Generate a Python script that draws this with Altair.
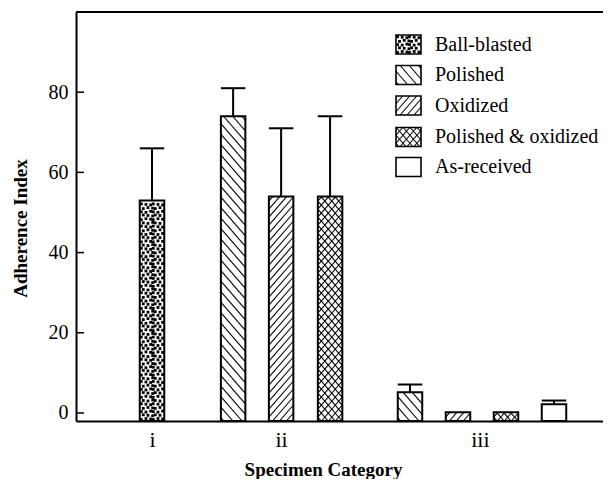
import json
import altair as alt
import pandas as pd

# ---------------- data ----------------
categories = ["i", "ii", "ii", "ii", "iii", "iii", "iii", "iii"]
treatments = ["Ball-blasted", "Polished", "Oxidized", "Polished & oxidized",
              "Polished", "Oxidized", "Polished & oxidized", "As-received"]
adherence = [53.0, 74.0, 54.0, 54.0, 5.2, 0.2, 0.2, 2.2]
error_top = [66.0, 81.0, 71.0, 74.0, 7.1, None, None, 3.1]
bar_slot = [0.0, 1.69, 2.69, 3.71, 5.375, 6.375, 7.375, 8.375]
category_labels = ["i", "ii", "iii"]
category_slot = [0.0, 2.69, 6.83]
legend_order = ["Ball-blasted", "Polished", "Oxidized", "Polished & oxidized", "As-received"]
y_ticks = [0, 20, 40, 60, 80]

# ---------------- layout / style ----------------
W, H = 527, 409
SLOT_PX = 48.0
XMIN = -76.0 / SLOT_PX
XMAX = XMIN + W / SLOT_PX
YMIN, YMAX = -2.0, 100.0
PY = H / (YMAX - YMIN)
HALF = 0.255
FONT = "Liberation Serif"

patterns = {
    "Ball-blasted": [("dots", 0)],
    "Polished": [("back", 10.5)],
    "Oxidized": [("fwd", 8.0)],
    "Polished & oxidized": [("fwd", 8.0), ("back", 8.0)],
    "As-received": [],
}


def to_x(px):
    return XMIN + px / SLOT_PX


def to_y(py):
    return YMIN + py / PY


def hatch(x0, x1, y0, y1, direction, spacing, slope=1.15):
    segs = []
    m = slope if direction == "fwd" else -slope
    w = x1 - x0
    c = y0 - abs(m) * w - spacing
    while c < y1 + abs(m) * w + spacing:
        xa = x0 + (y0 - c) / m
        xb = x0 + (y1 - c) / m
        lo = max(x0, min(xa, xb))
        hi = min(x1, max(xa, xb))
        if hi - lo > 0.3:
            ya = c + m * (lo - x0)
            yb = c + m * (hi - x0)
            segs.append((to_x(lo), to_x(hi), to_y(ya), to_y(yb)))
        c += spacing
    return segs


def dots(x0, x1, y0, y1):
    pts = []
    j = 0
    y = y0 + 2.0
    while y < y1 - 1.0:
        off = 2.0 if j % 2 else 0.0
        i = 0
        x = x0 + 2.2 + off
        while x < x1 - 1.5:
            dx = ((i * 7 + j * 3) % 3 - 1) * 0.7
            dy = ((i * 5 + j * 2) % 3 - 1) * 0.5
            pts.append((to_x(x + dx), to_y(y + dy)))
            x += 4.0
            i += 1
        y += 3.7
        j += 1
    return pts


def fill_rect(name, x0, x1, y0, y1, segs, pts):
    for kind, sp in patterns[name]:
        if kind == "dots":
            pts.extend(dots(x0, x1, y0, y1))
        else:
            segs.extend(hatch(x0, x1, y0, y1, kind, sp))


# bars
bars = pd.DataFrame({
    "category": categories, "treatment": treatments, "value": adherence,
    "err": error_top, "slot": bar_slot,
})
bars["x_lo"] = bars["slot"] - HALF
bars["x_hi"] = bars["slot"] + HALF
bars["base"] = YMIN

segs, pts = [], []
for _, r in bars.iterrows():
    x0 = (r.x_lo - XMIN) * SLOT_PX
    x1 = (r.x_hi - XMIN) * SLOT_PX
    y1 = (r.value - YMIN) * PY
    fill_rect(r.treatment, x0, x1, 0.0, y1, segs, pts)

# legend swatches (layout in plot pixels, y measured from top)
leg_x0, leg_x1 = 320.0, 345.0
leg_centers = [32.5, 63.0, 93.5, 125.0, 155.0]
leg_rows = []
for name, cy in zip(legend_order, leg_centers):
    y0 = H - (cy + 9.5)
    y1 = H - (cy - 9.5)
    leg_rows.append({"treatment": name, "x_lo": to_x(leg_x0), "x_hi": to_x(leg_x1),
                     "y_lo": to_y(y0), "y_hi": to_y(y1),
                     "tx": to_x(359.0), "ty": to_y(H - cy)})
    fill_rect(name, leg_x0, leg_x1, y0, y1, segs, pts)
legend = pd.DataFrame(leg_rows)

seg_df = pd.DataFrame(segs, columns=["x", "x2", "y", "y2"])
dot_df = pd.DataFrame(pts, columns=["x", "y"])
tick_df = pd.DataFrame({"tick": y_ticks})

XS = alt.Scale(domain=[XMIN, XMAX], nice=False, zero=False)
YS = alt.Scale(domain=[YMIN, YMAX], nice=False, zero=False)

label_map = {f"{v:.2f}": lab for v, lab in zip(category_slot, category_labels)}

X_AXIS = alt.Axis(
    values=category_slot, format=".2f", labelExpr=json.dumps(label_map) + "[datum.label]",
    ticks=False, grid=False, domainColor="black", domainWidth=2,
    labelFont=FONT, labelFontSize=22, labelColor="black", labelPadding=8,
    labelOverlap=False, labelFlush=False,
    title="Specimen Category", titleFont=FONT, titleFontSize=19, titleFontWeight="bold",
    titleColor="black", titleX=247, titleY=54, titleAlign="center", titleBaseline="alphabetic",
    titleAnchor="start",
)
Y_AXIS = alt.Axis(
    values=y_ticks, ticks=False, grid=False, domainColor="black", domainWidth=2,
    labelFont=FONT, labelFontSize=20, labelColor="black", labelPadding=8,
    title="Adherence Index", titleFont=FONT, titleFontSize=19, titleFontWeight="bold",
    titleColor="black", titleX=-56, titleY=216, titleAngle=270, titleAlign="center",
    titleBaseline="middle", titleAnchor="start",
)


def X(field):
    return alt.X(field, type="quantitative", scale=XS, axis=X_AXIS)


def Y(field):
    return alt.Y(field, type="quantitative", scale=YS, axis=Y_AXIS)


bar_fill = alt.Chart(bars).mark_bar(fill="white", strokeWidth=0).encode(
    x=X("x_lo"), x2="x_hi", y=Y("value"), y2="base")

hatch_layer = alt.Chart(seg_df).mark_rule(color="black", strokeWidth=1.1).encode(
    x=X("x"), x2="x2", y=Y("y"), y2="y2")

dot_layer = alt.Chart(dot_df).mark_square(color="black", size=8, opacity=1).encode(
    x=X("x"), y=Y("y"))

bar_outline = alt.Chart(bars).mark_bar(fillOpacity=0, stroke="black", strokeWidth=2).encode(
    x=X("x_lo"), x2="x_hi", y=Y("value"), y2="base")

err_df = bars.dropna(subset=["err"])
err_stem = alt.Chart(err_df).mark_rule(color="black", strokeWidth=2).encode(
    x=X("slot"), y=Y("value"), y2="err")
err_cap = alt.Chart(err_df).mark_rule(color="black", strokeWidth=2).encode(
    x=X("x_lo"), x2="x_hi", y=Y("err"))

leg_fill = alt.Chart(legend).mark_rect(fill="white").encode(
    x=X("x_lo"), x2="x_hi", y=Y("y_lo"), y2="y_hi")
leg_outline = alt.Chart(legend).mark_rect(fillOpacity=0, stroke="black", strokeWidth=1.6).encode(
    x=X("x_lo"), x2="x_hi", y=Y("y_lo"), y2="y_hi")
leg_text = alt.Chart(legend).mark_text(
    align="left", baseline="middle", font=FONT, fontSize=20, color="black").encode(
    x=X("tx"), y=Y("ty"), text="treatment:N")

top_rule = alt.Chart(tick_df).mark_rule(color="black", strokeWidth=2).encode(
    y=alt.value(0))
tick_marks = alt.Chart(tick_df).mark_rule(color="black", strokeWidth=1.5).encode(
    x=alt.value(0), x2=alt.value(8), y=Y("tick"))

chart = alt.layer(
    bar_fill, leg_fill, hatch_layer, dot_layer, bar_outline, leg_outline,
    err_stem, err_cap, leg_text, top_rule, tick_marks,
).properties(
    width=W, height=H,
    autosize=alt.AutoSizeParams(type="none"),
    padding={"left": 68, "top": 4, "right": 0, "bottom": 58},
).configure(background="white").configure_view(stroke=None)

chart.save("out.html", embed_options={"renderer": "svg", "actions": False})
